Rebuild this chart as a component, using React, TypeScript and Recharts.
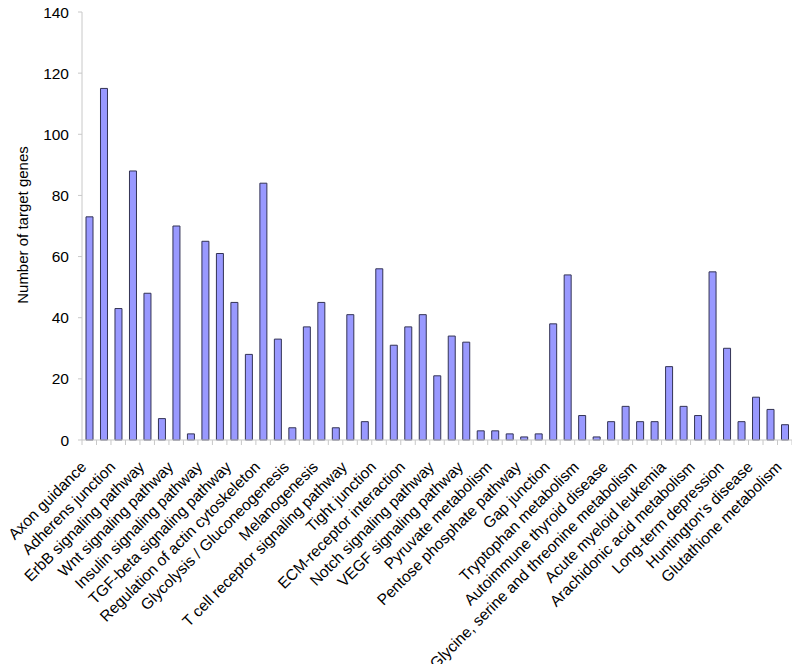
import React from 'react'
import { Bar, BarChart, Label, XAxis, YAxis } from 'recharts'

// only every other pathway is labelled on the x axis
const tickLabels = [
  'Axon guidance',
  'Adherens junction',
  'ErbB signaling pathway',
  'Wnt signaling pathway',
  'Insulin signaling pathway',
  'TGF-beta signaling pathway',
  'Regulation of actin cytoskeleton',
  'Glycolysis / Gluconeogenesis',
  'Melanogenesis',
  'T cell receptor signaling pathway',
  'Tight junction',
  'ECM-receptor interaction',
  'Notch signaling pathway',
  'VEGF signaling pathway',
  'Pyruvate metabolism',
  'Pentose phosphate pathway',
  'Gap junction',
  'Tryptophan metabolism',
  'Autoimmune thyroid disease',
  'Glycine, serine and threonine metabolism',
  'Acute myeloid leukemia',
  'Arachidonic acid metabolism',
  'Long-term depression',
  "Huntington's disease",
  'Glutathione metabolism',
]

// number of target genes per pathway (49 bars)
const genes = [
  73, 115, 43, 88, 48, 7, 70, 2, 65, 61,
  45, 28, 84, 33, 4, 37, 45, 4, 41, 6,
  56, 31, 37, 41, 21, 34, 32, 3, 3, 2,
  1, 2, 38, 54, 8, 1, 6, 11, 6, 6,
  24, 11, 8, 55, 30, 6, 14, 10, 5,
]

const yTicks = [0, 20, 40, 60, 80, 100, 120, 140]

const rows = genes.map((g, i) => ({ idx: i, genes: g }))

const FONT = '"Liberation Sans", Arial, sans-serif'
const WIDTH = 800
const HEIGHT = 672
const Y_AXIS_W = 82
const RIGHT = 8
const PLOT_W = WIDTH - Y_AXIS_W - RIGHT
const STEP = PLOT_W / genes.length
const AXIS_GRAY = '#c8c8c8'

// tick marks sit between the bars, labels on every other bar
const XTick = (props: any) => {
  const { x, y, payload } = props
  const i = Number(payload.value)
  const label = i % 2 === 0 ? tickLabels[i / 2] : ''
  const tx = x - 2
  const ty = y + 28
  return (
    <g>
      {i === 0 && <line x1={x - STEP / 2} x2={x - STEP / 2} y1={y} y2={y + 5} stroke={AXIS_GRAY} />}
      <line x1={x + STEP / 2} x2={x + STEP / 2} y1={y} y2={y + 5} stroke={AXIS_GRAY} />
      {label && (
        <text
          x={tx}
          y={ty}
          transform={`rotate(-45 ${tx} ${ty})`}
          textAnchor="end"
          fontSize={15.5}
          fontFamily={FONT}
          fill="#000"
        >
          {label}
        </text>
      )}
    </g>
  )
}

const YLabel = (props: any) => {
  const { viewBox } = props
  const cx = viewBox.x + 22
  const cy = viewBox.y + viewBox.height / 2 - 1
  return (
    <text
      x={cx}
      y={cy}
      transform={`rotate(-90 ${cx} ${cy})`}
      textAnchor="middle"
      dominantBaseline="central"
      fontSize={15}
      fontFamily={FONT}
      fill="#000"
    >
      Number of target genes
    </text>
  )
}

const App = () => {
  return (
    <div style={{ width: WIDTH, height: HEIGHT, margin: -8, background: '#fff' }}>
      <BarChart
        width={WIDTH}
        height={HEIGHT}
        data={rows}
        margin={{ top: 12, right: RIGHT, left: 0, bottom: 0 }}
        barSize={7}
      >
        <XAxis
          dataKey="idx"
          type="category"
          interval={0}
          height={232}
          tickSize={0}
          tickMargin={0}
          tickLine={false}
          axisLine={{ stroke: AXIS_GRAY }}
          tick={(p: any) => <XTick {...p} />}
        />
        <YAxis
          width={Y_AXIS_W}
          domain={[0, 140]}
          ticks={yTicks}
          interval={0}
          tickSize={4}
          tickMargin={9}
          axisLine={{ stroke: AXIS_GRAY }}
          tickLine={{ stroke: AXIS_GRAY }}
          tick={{ fontSize: 15.5, fontFamily: FONT, fill: '#000' }}
        >
          <Label content={(p: any) => <YLabel {...p} />} />
        </YAxis>
        <Bar dataKey="genes" fill="#9999ff" stroke="#333355" strokeWidth={1} isAnimationActive={false} />
      </BarChart>
    </div>
  )
}

export default App
